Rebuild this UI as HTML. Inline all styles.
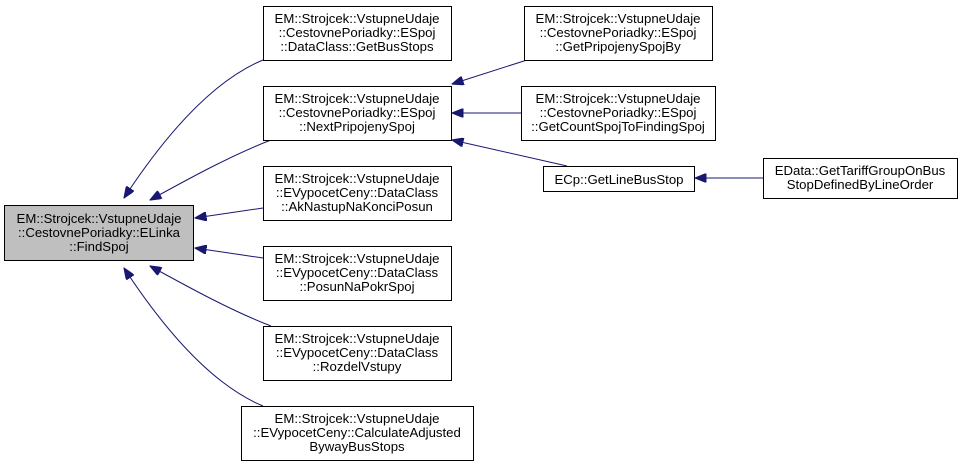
<!DOCTYPE html>
<html><head><meta charset="utf-8"><style>
html,body{margin:0;padding:0;background:#fff;}
svg{display:block;}
text{font-family:"Liberation Sans",Helvetica,Arial,sans-serif;font-size:13.2px;fill:#000;text-anchor:middle;}
.b{fill:#fff;stroke:#000;stroke-width:1;}
.e{fill:none;stroke:#191970;stroke-width:1;}
</style></head><body>
<svg width="963" height="467" viewBox="0 0 963 467" xmlns="http://www.w3.org/2000/svg">
<defs>
<marker id="a" viewBox="0 0 10 8" refX="10" refY="4" markerWidth="12" markerHeight="9" markerUnits="userSpaceOnUse" orient="auto">
<path d="M0,0 L10,4 L0,8 z" fill="#191970" stroke="#191970"/>
</marker>
</defs>
<path class="e" d="M263,60 C210,82 162,140 124,198" marker-end="url(#a)"/>
<path class="e" d="M271,140 C232,155 190,178 150,200" marker-end="url(#a)"/>
<path class="e" d="M263,208 L195,218" marker-end="url(#a)"/>
<path class="e" d="M263,258 L195,248" marker-end="url(#a)"/>
<path class="e" d="M271,326 C232,311 190,288 150,266" marker-end="url(#a)"/>
<path class="e" d="M263,406 C210,384 162,326 124,268" marker-end="url(#a)"/>
<path class="e" d="M527,60 L452,84" marker-end="url(#a)"/>
<path class="e" d="M521,113 L452,113" marker-end="url(#a)"/>
<path class="e" d="M567,166 L452,140" marker-end="url(#a)"/>
<path class="e" d="M763,178 L695,178" marker-end="url(#a)"/>
<rect x="4.5" y="205.5" width="189" height="55" fill="#bfbfbf" stroke="#000"/>
<text x="99" y="223">EM::Strojcek::VstupneUdaje</text>
<text x="99" y="237">::CestovnePoriadky::ELinka</text>
<text x="99" y="251">::FindSpoj</text>
<rect class="b" x="263.5" y="6.5" width="188" height="54"/>
<text x="357" y="23">EM::Strojcek::VstupneUdaje</text>
<text x="357" y="37">::CestovnePoriadky::ESpoj</text>
<text x="357" y="51">::DataClass::GetBusStops</text>
<rect class="b" x="263.5" y="86.5" width="188" height="54"/>
<text x="357" y="103">EM::Strojcek::VstupneUdaje</text>
<text x="357" y="117">::CestovnePoriadky::ESpoj</text>
<text x="357" y="131">::NextPripojenySpoj</text>
<rect class="b" x="263.5" y="166.5" width="188" height="54"/>
<text x="357" y="183">EM::Strojcek::VstupneUdaje</text>
<text x="357" y="197">::EVypocetCeny::DataClass</text>
<text x="357" y="211">::AkNastupNaKonciPosun</text>
<rect class="b" x="263.5" y="246.5" width="188" height="54"/>
<text x="357" y="263">EM::Strojcek::VstupneUdaje</text>
<text x="357" y="277">::EVypocetCeny::DataClass</text>
<text x="357" y="291">::PosunNaPokrSpoj</text>
<rect class="b" x="263.5" y="326.5" width="188" height="54"/>
<text x="357" y="343">EM::Strojcek::VstupneUdaje</text>
<text x="357" y="357">::EVypocetCeny::DataClass</text>
<text x="357" y="371">::RozdelVstupy</text>
<rect class="b" x="241.5" y="406.5" width="232" height="54"/>
<text x="357" y="423">EM::Strojcek::VstupneUdaje</text>
<text x="357" y="437">::EVypocetCeny::CalculateAdjusted</text>
<text x="357" y="451">BywayBusStops</text>
<rect class="b" x="524.5" y="6.5" width="188" height="54"/>
<text x="618" y="23">EM::Strojcek::VstupneUdaje</text>
<text x="618" y="37">::CestovnePoriadky::ESpoj</text>
<text x="618" y="51">::GetPripojenySpojBy</text>
<rect class="b" x="521.5" y="86.5" width="194" height="54"/>
<text x="618" y="103">EM::Strojcek::VstupneUdaje</text>
<text x="618" y="117">::CestovnePoriadky::ESpoj</text>
<text x="618" y="131">::GetCountSpojToFindingSpoj</text>
<rect class="b" x="543.5" y="166.5" width="151" height="25"/>
<text x="619" y="184">ECp::GetLineBusStop</text>
<rect class="b" x="763.5" y="158.5" width="194" height="40"/>
<text x="860" y="175">EData::GetTariffGroupOnBus</text>
<text x="860" y="189">StopDefinedByLineOrder</text>
</svg>
</body></html>
